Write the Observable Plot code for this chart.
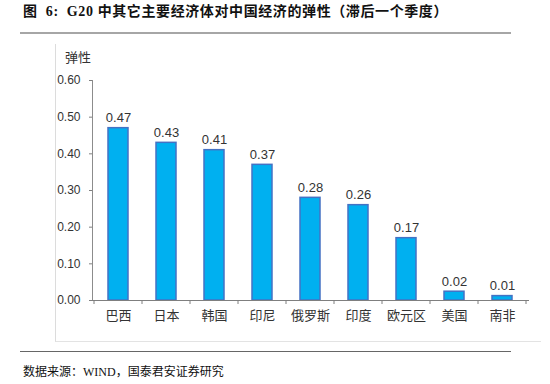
<!DOCTYPE html>
<html>
<head>
<meta charset="utf-8">
<script src="https://cdn.jsdelivr.net/npm/d3@7"></script>
<script src="https://cdn.jsdelivr.net/npm/@observablehq/plot@0.6"></script>
<style>
  body { margin: 0; background: #fff; }
  #wrap { position: relative; width: 550px; height: 384px; overflow: hidden; background: #fff; }
  #title { position: absolute; left: 23px; top: 3px; font-family: "Liberation Serif", "Noto Sans CJK SC", serif; font-weight: bold; font-size: 14px; letter-spacing: 0.6px; color: #111; white-space: pre; line-height: 18px; }
  #rule-top { position: absolute; left: 20px; top: 32px; width: 491px; height: 2px; background: #a6a6a6; }
  #frame { position: absolute; left: 55px; top: 44px; width: 485px; height: 297px; border-left: 1px solid #dcdcdc; border-bottom: 1px solid #e3e3e3; }
  #rule-bot { position: absolute; left: 20px; top: 351px; width: 491px; height: 1px; background: #666; }
  #caption { position: absolute; left: 23px; top: 364px; font-family: "Liberation Serif", "Noto Sans CJK SC", serif; font-size: 12px; color: #111; white-space: pre; line-height: 16px; }
  #chart { position: absolute; left: 0; top: 0; }
  #ylabel { position: absolute; left: 65px; top: 47px; font-family: "Noto Sans CJK SC", sans-serif; font-size: 13px; color: #333; }
</style>
</head>
<body>
<div id="wrap">
  <div id="frame"></div>
  <div id="chart"></div>
  <div id="title">图  6:  G20 中其它主要经济体对中国经济的弹性（滞后一个季度）</div>
  <div id="rule-top"></div>
  <div id="ylabel">弹性</div>
  <div id="rule-bot"></div>
  <div id="caption">数据来源：WIND，国泰君安证券研究</div>
</div>
<script>
const categories = ["巴西", "日本", "韩国", "印尼", "俄罗斯", "印度", "欧元区", "美国", "南非"];
const values = [0.47, 0.43, 0.41, 0.37, 0.28, 0.26, 0.17, 0.024, 0.012];
const yTicks = [0, 0.1, 0.2, 0.3, 0.4, 0.5, 0.6];

const data = categories.map((c, i) => ({country: c, value: values[i]}));

function boundaryTicks() {
  return (index, scales, vals, dims) => {
    const x = scales.x;
    const step = x.step();
    const y0 = dims.height - dims.marginBottom;
    const g = d3.create("svg:g").attr("stroke", "#7f7f7f").attr("stroke-width", 1);
    const pts = categories.map(c => x(c) + x.bandwidth() / 2 - step / 2);
    pts.push(x(categories[categories.length - 1]) + x.bandwidth() / 2 + step / 2);
    for (const px of pts) {
      g.append("line").attr("x1", px).attr("x2", px).attr("y1", y0).attr("y2", y0 + 4);
    }
    return g.node();
  };
}

const chart = Plot.plot({
  width: 550,
  height: 384,
  marginLeft: 92,
  marginRight: 22,
  marginTop: 80,
  marginBottom: 84,
  style: {fontFamily: "'Liberation Sans', 'Noto Sans CJK SC', sans-serif", background: "transparent"},
  x: {domain: categories, paddingInner: 0.59, paddingOuter: 0.295, label: null},
  y: {domain: [0, 0.6], label: null},
  marks: [
    Plot.barY(data, {x: "country", y: "value", fill: "#00b0f0", stroke: "#4472c4", strokeWidth: 1.5}),
    Plot.text(data, {x: "country", y: "value", text: d => d.value.toFixed(2), lineAnchor: "bottom", dy: -6, fontSize: 13, fill: "#333"}),
    Plot.axisY({ticks: yTicks, tickFormat: d => d.toFixed(2), tickSize: 3, tickPadding: 9, fontSize: 12, color: "#333", stroke: "#7f7f7f"}),
    Plot.axisX({tickSize: 0, tickPadding: 10, fontSize: 13, color: "#333", fontFamily: "'Noto Sans CJK SC', sans-serif"}),
    Plot.frame({anchor: "left", stroke: "#8c8c8c"}),
    Plot.frame({anchor: "bottom", stroke: "#7f7f7f"}),
    boundaryTicks()
  ]
});
document.getElementById("chart").appendChild(chart);
</script>
</body>
</html>
